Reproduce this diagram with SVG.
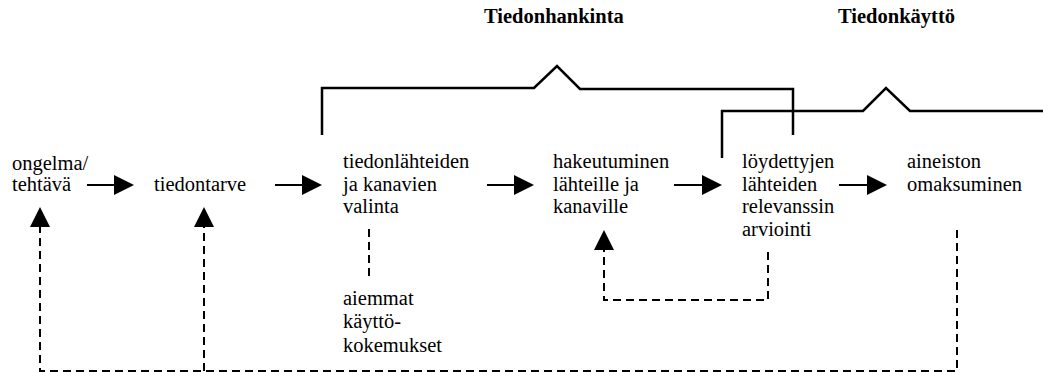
<svg xmlns="http://www.w3.org/2000/svg" width="1043" height="372" viewBox="0 0 1043 372">
  <style>
    text { font-family: 'Liberation Serif', 'Times New Roman', Times, 'DejaVu Serif', serif; fill: #000; }
    .t { font-size: 20.5px; }
    .h { font-size: 20.5px; font-weight: bold; }
    .solid { stroke: #000; stroke-width: 2; fill: none; }
    .bracket { stroke: #000; stroke-width: 2.5; fill: none; stroke-linejoin: miter; }
    .dash { stroke: #000; stroke-width: 2; fill: none; stroke-dasharray: 8 5; }
  </style>
  <defs>
    <marker id="head" markerUnits="userSpaceOnUse" markerWidth="21" markerHeight="20" refX="0" refY="10" orient="auto" viewBox="0 0 21 20">
      <path d="M0,0 L20,10 L0,20 Z" fill="#000"/>
    </marker>
  </defs>

  <!-- phase headings -->
  <text class="h" x="484" y="23" font-family="Liberation Serif, serif">Tiedonhankinta</text>
  <text class="h" x="838" y="23" font-family="Liberation Serif, serif">Tiedonkäyttö</text>

  <!-- phase brackets -->
  <g id="brackets">
    <path class="bracket" d="M322,135 V88 H534 L557,66 L580,89 H793 V135"/>
    <path class="bracket" d="M722,158 V111 H863 L886,88 L910,111 H1043"/>
  </g>

  <!-- process steps -->
  <g id="n-ongelma" font-family="Liberation Serif, serif">
    <text class="t" x="12" y="170">ongelma/</text>
    <text class="t" x="12" y="190.5">tehtävä</text>
  </g>
  <g id="n-tiedontarve">
    <text class="t" x="154" y="190.5">tiedontarve</text>
  </g>
  <g id="n-valinta">
    <text class="t" x="343" y="168">tiedonlähteiden</text>
    <text class="t" x="343" y="190.5">ja kanavien</text>
    <text class="t" x="343" y="213">valinta</text>
  </g>
  <g id="n-kokemukset">
    <text class="t" x="343" y="305">aiemmat</text>
    <text class="t" x="343" y="328">käyttö-</text>
    <text class="t" x="343" y="351.5">kokemukset</text>
  </g>
  <g id="n-hakeutuminen">
    <text class="t" x="553" y="168">hakeutuminen</text>
    <text class="t" x="553" y="190.5">lähteille ja</text>
    <text class="t" x="553" y="213">kanaville</text>
  </g>
  <g id="n-arviointi">
    <text class="t" x="742" y="168">löydettyjen</text>
    <text class="t" x="742" y="190.5">lähteiden</text>
    <text class="t" x="742" y="213">relevanssin</text>
    <text class="t" x="742" y="235.5">arviointi</text>
  </g>
  <g id="n-omaksuminen">
    <text class="t" x="907" y="168">aineiston</text>
    <text class="t" x="907" y="190.5">omaksuminen</text>
  </g>

  <!-- connectors -->
  <g id="connectors">
    <path class="solid" d="M87,185 H114" marker-end="url(#head)"/>
    <path class="solid" d="M275,185 H302" marker-end="url(#head)"/>
    <path class="solid" d="M487,185 H514" marker-end="url(#head)"/>
    <path class="solid" d="M674,185 H702" marker-end="url(#head)"/>
    <path class="solid" d="M839,185 H867" marker-end="url(#head)"/>

    <path class="dash" d="M369,229 V277"/>

    <path class="dash" d="M768,252 V300 H604 V250" marker-end="url(#head)"/>

    <path class="dash" d="M957,230 V371 H40 V227" marker-end="url(#head)"/>
    <path class="dash" d="M204,371 V227" marker-end="url(#head)"/>
  </g>
</svg>
